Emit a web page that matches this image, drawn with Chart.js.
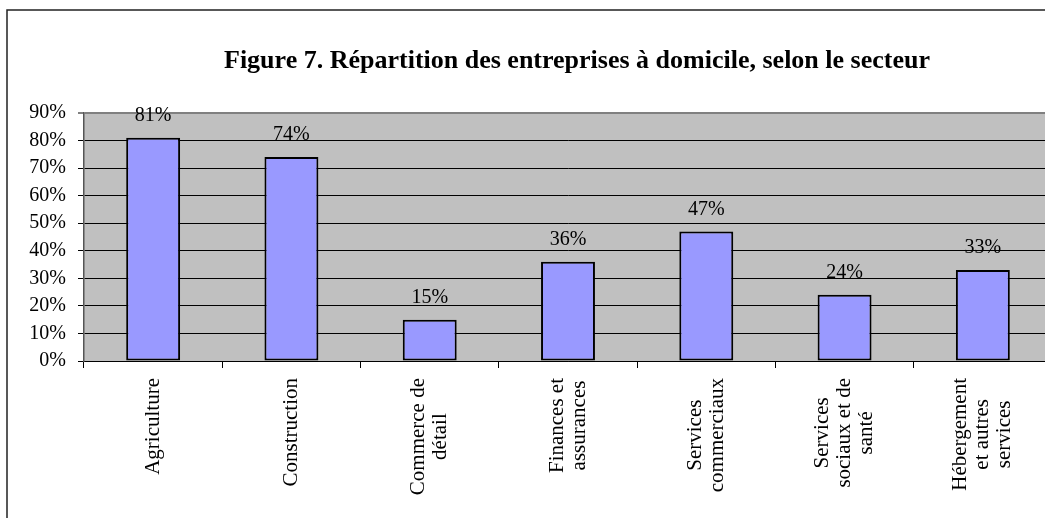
<!DOCTYPE html>
<html>
<head>
<meta charset="utf-8">
<script src="https://cdn.jsdelivr.net/npm/chart.js@4.4.0/dist/chart.umd.min.js"></script>
<style>
  html, body { margin: 0; padding: 0; background: #fff; overflow: hidden; }
  #wrap { position: absolute; left: 0; top: 0; }
</style>
</head>
<body>
<div id="wrap"><canvas id="chart" width="1060" height="518"></canvas></div>
<script>
// categories (each entry = lines of the rotated label)
const categories = [
  ['Agriculture'],
  ['Construction'],
  ['Commerce de', 'détail'],
  ['Finances et', 'assurances'],
  ['Services', 'commerciaux'],
  ['Services', 'sociaux et de', 'santé'],
  ['Hébergement', 'et autres', 'services']
];
const values = [81, 74, 15, 36, 47, 24, 33];
const yTicks = [0, 10, 20, 30, 40, 50, 60, 70, 80, 90];
const titleText = 'Figure 7. Répartition des entreprises à domicile, selon le secteur';

const serif = '"Liberation Serif", "Times New Roman", serif';

// gray plot background, outer frame and title
const decor = {
  id: 'decor',
  beforeDraw(chart) {
    const ctx = chart.ctx, a = chart.chartArea;
    ctx.save();
    ctx.fillStyle = '#c0c0c0';
    ctx.fillRect(a.left, a.top, a.right - a.left, a.bottom - a.top);
    ctx.restore();
  },
  afterDraw(chart) {
    const ctx = chart.ctx;
    ctx.save();
    ctx.strokeStyle = '#222';
    ctx.lineWidth = 1.5;
    ctx.strokeRect(7, 10, 2000, 2000);
    ctx.fillStyle = '#000';
    ctx.font = 'bold 26px ' + serif;
    ctx.textAlign = 'center';
    ctx.textBaseline = 'middle';
    ctx.fillText(titleText, 577, 61);
    ctx.restore();
  }
};

// value labels above bars and centered, rotated category labels
const labelsPlugin = {
  id: 'labelsPlugin',
  afterDatasetsDraw(chart) {
    const ctx = chart.ctx;
    const meta = chart.getDatasetMeta(0);
    ctx.save();
    ctx.fillStyle = '#000';
    ctx.font = '20px ' + serif;
    ctx.textAlign = 'center';
    ctx.textBaseline = 'middle';
    meta.data.forEach((bar, i) => {
      ctx.fillText(values[i] + '%', bar.x, bar.y - 22);
    });

    ctx.font = '21px ' + serif;
    const xs = chart.scales.x;
    const top = xs.top + 17;
    const lh = 22;
    categories.forEach((lines, i) => {
      const x = xs.getPixelForValue(i);
      let maxW = 0;
      lines.forEach(l => { maxW = Math.max(maxW, ctx.measureText(l).width); });
      ctx.save();
      ctx.translate(x, top + maxW / 2);
      ctx.rotate(-Math.PI / 2);
      lines.forEach((l, j) => {
        ctx.fillText(l, 0, (j - (lines.length - 1) / 2) * lh);
      });
      ctx.restore();
    });
    ctx.restore();
  }
};

new Chart(document.getElementById('chart'), {
  type: 'bar',
  data: {
    labels: categories.map(c => c.join(' ')),
    datasets: [{
      data: values,
      backgroundColor: '#9999ff',
      borderColor: '#000',
      borderWidth: 2,
      borderSkipped: false,
      categoryPercentage: 1,
      barPercentage: 0.39
    }]
  },
  options: {
    responsive: false,
    animation: false,
    layout: { padding: { top: 113, right: 8, left: 0, bottom: 0 } },
    plugins: {
      legend: { display: false },
      title: { display: false },
      tooltip: { enabled: false }
    },
    scales: {
      x: {
        offset: true,
        grid: {
          offset: true,
          drawOnChartArea: false,
          drawTicks: true,
          tickLength: 7,
          color: '#000'
        },
        border: { color: '#000', width: 1 },
        ticks: { display: false },
        afterFit(scale) { scale.height = 518 - 361; }
      },
      y: {
        min: 0,
        max: 90,
        afterBuildTicks(scale) { scale.ticks = yTicks.map(v => ({ value: v })); },
        grid: {
          color: ctx => ctx.tick && ctx.tick.value === 90 ? '#808080' : '#000',
          lineWidth: ctx => ctx.tick && ctx.tick.value === 90 ? 2 : 1,
          tickLength: 6
        },
        border: { color: '#555', width: 1.5 },
        ticks: {
          color: '#000',
          padding: 12,
          font: { family: serif, size: 20 },
          callback: v => v + '%'
        },
        afterFit(scale) { scale.width = 84; }
      }
    }
  },
  plugins: [decor, labelsPlugin]
});
</script>
</body>
</html>
